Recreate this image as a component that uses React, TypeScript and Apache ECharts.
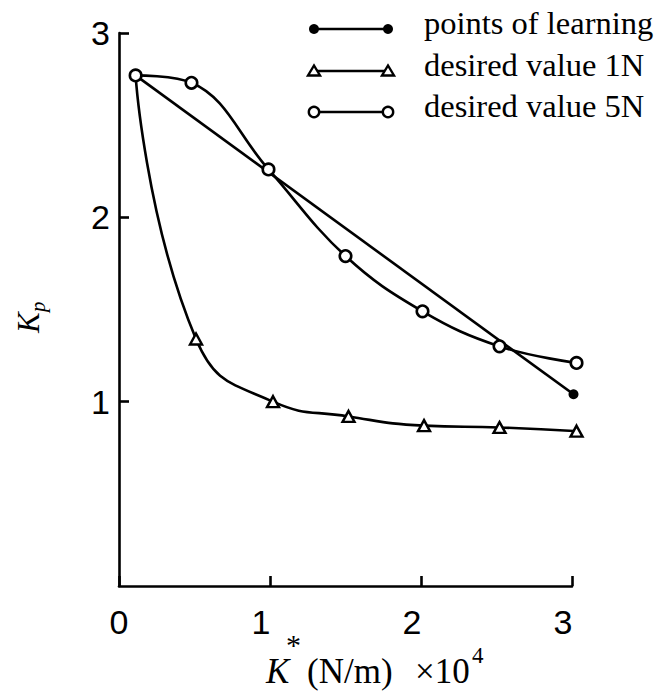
import React, { useEffect, useRef } from "react";
import * as echarts from "echarts";

// ---- data ----
const legendNames = ["points of learning", "desired value 1N", "desired value 5N"];

const learnX = [0.11, 3.01];
const learnY = [2.77, 1.04];

const n1X = [0.11, 0.51, 1.02, 1.52, 2.02, 2.52, 3.03];
const n1Y = [2.77, 1.34, 1.0, 0.92, 0.87, 0.86, 0.84];

const n5X = [0.11, 0.48, 0.99, 1.5, 2.01, 2.52, 3.03];
const n5Y = [2.77, 2.73, 2.26, 1.79, 1.49, 1.3, 1.21];

const xTicks = [0, 1, 2, 3];
const yTicks = [0, 1, 2, 3];

const SERIF = '"Liberation Serif", "Times New Roman", serif';
const SANS = '"Liberation Sans", Arial, sans-serif';

function pairs(xs: number[], ys: number[], hideFirst: boolean) {
  return xs.map((x, i) =>
    hideFirst && i === 0 ? { value: [x, ys[i]], symbol: "none" } : { value: [x, ys[i]] }
  );
}

function txt(x: number, y: number, text: string, fontSize: number, italic = false) {
  return {
    type: "text",
    x,
    y,
    style: {
      text,
      fontSize,
      fontStyle: italic ? "italic" : "normal",
      fontFamily: SERIF,
      fill: "#000",
      textAlign: "left",
      align: "left",
      textVerticalAlign: "middle",
      verticalAlign: "middle",
    },
  };
}

function legendRow(i: number, y: number) {
  const x1 = 314;
  const x2 = 388;
  const children: any[] = [
    {
      type: "line",
      shape: { x1, y1: y, x2, y2: y },
      style: { stroke: "#000", lineWidth: 2.6 },
    },
  ];
  [x1, x2].forEach((cx) => {
    if (i === 0) {
      children.push({ type: "circle", shape: { cx, cy: y, r: 5 }, style: { fill: "#000" } });
    } else if (i === 1) {
      children.push({
        type: "polygon",
        shape: { points: [[cx - 6, y + 4.5], [cx + 6, y + 4.5], [cx, y - 5.5]] },
        style: { fill: "#fff", stroke: "#000", lineWidth: 2.4 },
      });
    } else {
      children.push({
        type: "circle",
        shape: { cx, cy: y, r: 5.2 },
        style: { fill: "#fff", stroke: "#000", lineWidth: 2.4 },
      });
    }
  });
  children.push(txt(424, y - 6, legendNames[i], 32.5));
  return { type: "group", children };
}

export default function App() {
  const ref = useRef<HTMLDivElement>(null);

  useEffect(() => {
    if (!ref.current) return;
    const chart = echarts.init(ref.current, null, { renderer: "svg" });

    const option: any = {
      animation: false,
      backgroundColor: "#fff",
      grid: { left: 119, right: 86, top: 33, bottom: 105, containLabel: false },
      xAxis: {
        type: "value",
        min: xTicks[0],
        max: xTicks[xTicks.length - 1],
        interval: 1,
        splitLine: { show: false },
        axisLine: { show: true, lineStyle: { color: "#000", width: 2.6 } },
        axisTick: { show: true, inside: true, length: 10, lineStyle: { color: "#000", width: 2.6 } },
        axisLabel: {
          fontSize: 34,
          fontFamily: SANS,
          color: "#000",
          margin: 19,
          formatter: (v: number) => (v === 0 ? "{z|0}" : "{n|" + v + "}"),
          rich: {
            z: { fontSize: 34, fontFamily: SANS, color: "#000", padding: [0, 0, 0, 0] },
            n: { fontSize: 34, fontFamily: SANS, color: "#000", padding: [0, 18, 0, 0] },
          },
        },
      },
      yAxis: {
        type: "value",
        min: yTicks[0],
        max: yTicks[yTicks.length - 1],
        interval: 1,
        splitLine: { show: false },
        axisLine: { show: true, lineStyle: { color: "#000", width: 2.6 } },
        axisTick: { show: true, inside: true, length: 10, lineStyle: { color: "#000", width: 2.6 } },
        axisLabel: {
          fontSize: 34,
          fontFamily: SANS,
          color: "#000",
          margin: 9,
          showMinLabel: false,
          formatter: (v: number) => (v === 0 ? "" : String(v)),
        },
      },
      series: [
        {
          name: legendNames[1],
          type: "line",
          smooth: 0.5,
          clip: false,
          data: pairs(n1X, n1Y, true),
          symbol: "triangle",
          symbolSize: [12, 11],
          showAllSymbol: true,
          lineStyle: { color: "#000", width: 2.6 },
          itemStyle: { color: "#fff", borderColor: "#000", borderWidth: 2.4 },
          z: 2,
        },
        {
          name: legendNames[0],
          type: "line",
          smooth: false,
          clip: false,
          data: pairs(learnX, learnY, true),
          symbol: "circle",
          symbolSize: 10,
          lineStyle: { color: "#000", width: 2.6 },
          itemStyle: { color: "#000" },
          z: 3,
        },
        {
          name: legendNames[2],
          type: "line",
          smooth: 0.4,
          clip: false,
          data: pairs(n5X, n5Y, false),
          symbol: "circle",
          symbolSize: 11.5,
          showAllSymbol: true,
          lineStyle: { color: "#000", width: 2.6 },
          itemStyle: { color: "#fff", borderColor: "#000", borderWidth: 2.6 },
          z: 4,
        },
      ],
      graphic: [
        legendRow(0, 29),
        legendRow(1, 71),
        legendRow(2, 112),
        {
          type: "group",
          x: 38,
          y: 333,
          rotation: Math.PI / 2,
          children: [txt(0, -10, "K", 31, true), txt(21, 0, "p", 21, true)],
        },
        txt(266, 671, "K", 35, true),
        txt(286, 644, "*", 30),
        txt(307, 671, "(N/m)", 35),
        txt(415, 671, "×10", 35),
        txt(472, 655, "4", 23),
      ],
    };

    chart.setOption(option);
    return () => chart.dispose();
  }, []);

  return (
    <div
      ref={ref}
      style={{ position: "absolute", left: 0, top: 0, width: 658, height: 691, background: "#fff" }}
    />
  );
}
